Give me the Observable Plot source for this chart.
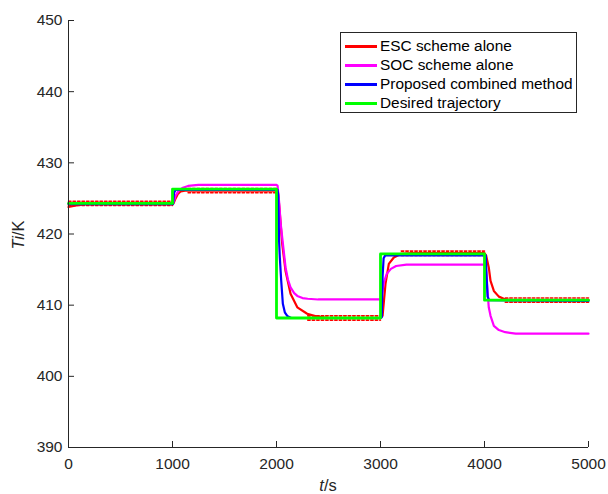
<!DOCTYPE html>
<html><head><meta charset="utf-8">
<script src="https://cdn.jsdelivr.net/npm/d3@7"></script>
<script src="https://cdn.jsdelivr.net/npm/@observablehq/plot@0.6"></script>
<style>
body{margin:0;background:#fff;}
#wrap{position:relative;width:608px;height:494px;font-family:Arial,"Liberation Sans",sans-serif;color:#000;}
.legend{position:absolute;left:340px;top:32px;width:237px;height:81px;border:1px solid #262626;background:#fff;box-sizing:border-box;}
.row{position:absolute;left:0;height:20px;width:100%;}
.sw{position:absolute;left:4px;top:9px;width:32px;height:2.5px;}
.lt{position:absolute;left:39px;top:1px;font-size:15.4px;line-height:18px;white-space:nowrap;color:#000;}
</style>
</head><body>
<div id="wrap"></div>
<script>
// ---- data ----
const xTicks = [0, 1000, 2000, 3000, 4000, 5000];
const yTicks = [390, 400, 410, 420, 430, 440, 450];

const desiredT = [0, 1000, 1000, 2000, 2000, 3000, 3000, 4000, 4000, 5000];
const desiredV = [424.3, 424.3, 426.3, 426.3, 408.2, 408.2, 417.2, 417.2, 410.7, 410.7];

const escT = [0, 100, 200, 1000, 1010, 1030, 1050, 1080, 1120, 2000, 2015, 2030, 2055, 2087, 2135, 2200, 2295, 2390, 2500, 3000, 3020, 3048, 3080, 3128, 3192, 3300, 4000, 4015, 4041, 4058, 4090, 4138, 4185, 4250, 5000];
const escV = [423.8, 424.1, 424.3, 424.3, 424.3, 425.0, 425.6, 426.0, 426.1, 426.1, 425.8, 423.3, 418.6, 414.8, 411.6, 409.7, 408.8, 408.4, 408.2, 408.2, 408.5, 413.0, 415.8, 416.7, 417.2, 417.3, 417.3, 417.0, 415.3, 413.4, 412.0, 411.2, 410.9, 410.7, 410.7];

// ESC dither envelope (steady segments)
const escBandStart = [0, 1150, 2300, 3200, 4200];
const escBandEnd = [1000, 2000, 3000, 4000, 5000];
const escUpper = [424.6, 426.4, 408.5, 417.6, 411.0];
const escLower = [424.0, 425.8, 407.9, 417.0, 410.4];

const socT = [0, 1000, 1010, 1030, 1060, 1100, 1150, 1250, 2000, 2010, 2025, 2040, 2055, 2087, 2110, 2135, 2170, 2200, 2250, 2300, 2400, 3000, 3010, 3020, 3035, 3060, 3100, 3150, 3250, 4000, 4010, 4020, 4030, 4041, 4058, 4090, 4138, 4200, 4300, 5000];
const socV = [424.3, 424.3, 424.5, 425.4, 426.1, 426.5, 426.75, 426.9, 426.9, 426.8, 424.5, 421.5, 419.5, 415.3, 413.6, 412.5, 411.7, 411.3, 411.0, 410.9, 410.8, 410.8, 411.0, 412.0, 413.3, 414.4, 415.1, 415.5, 415.7, 415.7, 415.5, 414.0, 411.8, 409.7, 408.5, 407.1, 406.5, 406.2, 406.0, 406.0];

const propT = [0, 1005, 1015, 1030, 2010, 2016, 2025, 2032, 2045, 2061, 2080, 2103, 2140, 3000, 3012, 3020, 3030, 3045, 4000, 4012, 4020, 4030, 4045, 5000];
const propV = [424.2, 424.2, 425.8, 426.2, 426.2, 425.5, 419.0, 416.7, 413.5, 410.2, 409.0, 408.5, 408.2, 408.2, 408.3, 414.0, 416.6, 417.0, 417.0, 417.0, 414.0, 411.2, 410.7, 410.6];

const series = ["ESC scheme alone", "SOC scheme alone", "Proposed combined method", "Desired trajectory"];
const colors = ["#ff0000", "#ff00ff", "#0000ff", "#00ff00"];

// ---- build ----
const toPts = (T, V) => T.map((t, i) => ({t, v: V[i]}));
const escBands = [];
escBandStart.forEach((s, i) => {
  escBands.push({seg: "u" + i, t: s, v: escUpper[i]}, {seg: "u" + i, t: escBandEnd[i], v: escUpper[i]});
  escBands.push({seg: "l" + i, t: s, v: escLower[i]}, {seg: "l" + i, t: escBandEnd[i], v: escLower[i]});
});

const W = 608, H = 494, mL = 68, mR = 20, mT = 20, mB = 47;
const axisColor = "#262626";

const chart = Plot.plot({
  width: W, height: H,
  marginLeft: mL, marginRight: mR, marginTop: mT, marginBottom: mB,
  style: {fontFamily: "Arial, 'Liberation Sans', sans-serif", background: "#fff"},
  x: {domain: [0, 5000]},
  y: {domain: [390, 450]},
  marks: [
    Plot.line(escBands, {x: "t", y: "v", z: "seg", stroke: colors[0], strokeWidth: 1.6, strokeDasharray: "2.5,2"}),
    Plot.line(toPts(escT, escV), {x: "t", y: "v", stroke: colors[0], strokeWidth: 2.2}),
    Plot.line(toPts(socT, socV), {x: "t", y: "v", stroke: colors[1], strokeWidth: 2.2}),
    Plot.line(toPts(propT, propV), {x: "t", y: "v", stroke: colors[2], strokeWidth: 2.2}),
    Plot.line(toPts(desiredT, desiredV), {x: "t", y: "v", stroke: colors[3], strokeWidth: 2.8}),
    Plot.ruleX([0], {stroke: axisColor, strokeWidth: 1}),
    Plot.ruleY([390], {stroke: axisColor, strokeWidth: 1}),
    Plot.tickX(xTicks, {x: d => d, stroke: axisColor, insetTop: H - mT - mB - 6}),
    Plot.tickY(yTicks, {y: d => d, stroke: axisColor, insetRight: W - mL - mR - 6}),
    Plot.axisX({ticks: xTicks, tickSize: 0, tickPadding: 10, fontSize: 15.5, color: axisColor, label: null, tickFormat: d => String(d)}),
    Plot.axisY({ticks: yTicks, tickSize: 0, tickPadding: 6, fontSize: 15.5, color: axisColor, label: null, tickFormat: d => String(d)})
  ]
});

const svg = d3.select(chart);
svg.selectAll("[aria-label='x-axis tick label'], [aria-label='y-axis tick label']").attr("fill", axisColor).attr("font-size", 15.5);

const yl = svg.append("text")
  .attr("transform", "translate(24,235) rotate(-90)")
  .attr("text-anchor", "middle")
  .attr("font-size", 16.5).attr("fill", axisColor)
  .attr("font-family", "Arial, 'Liberation Sans', sans-serif");
yl.append("tspan").attr("font-style", "italic").text("Ti");
yl.append("tspan").text("/K");

const xl = svg.append("text")
  .attr("x", 328).attr("y", 491)
  .attr("text-anchor", "middle")
  .attr("font-size", 16.5).attr("fill", axisColor)
  .attr("font-family", "Arial, 'Liberation Sans', sans-serif");
xl.append("tspan").attr("font-style", "italic").text("t");
xl.append("tspan").text("/s");

const wrap = document.getElementById("wrap");
wrap.appendChild(chart);

const leg = document.createElement("div");
leg.className = "legend";
const rowTops = [3, 22, 41, 60];
series.forEach((name, i) => {
  const r = document.createElement("div");
  r.className = "row";
  r.style.top = rowTops[i] + "px";
  r.innerHTML = `<div class="sw" style="background:${colors[i]}"></div><div class="lt">${name}</div>`;
  leg.appendChild(r);
});
wrap.appendChild(leg);
</script>
</body></html>
